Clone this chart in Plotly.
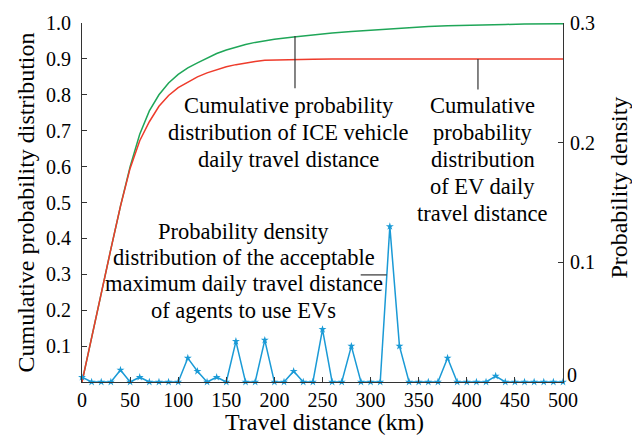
import plotly.graph_objects as go

# ---- data ----
cdf_km = [0, 10, 20, 30, 40, 50, 60, 70, 80, 90, 100, 110, 120, 130, 140, 150, 160, 170, 180, 190,
          200, 220, 240, 260, 280, 300, 320, 340, 360, 380, 400, 420, 440, 460, 480, 500]
cdf_ice = [0, 0.125, 0.25, 0.37, 0.49, 0.60, 0.69, 0.755, 0.80, 0.833, 0.857, 0.875, 0.889, 0.903,
           0.915, 0.925, 0.933, 0.940, 0.946, 0.951, 0.955, 0.961, 0.967, 0.972, 0.976, 0.980,
           0.984, 0.987, 0.990, 0.992, 0.994, 0.995, 0.996, 0.997, 0.997, 0.998]
cdf_ev = [0, 0.125, 0.25, 0.37, 0.49, 0.595, 0.672, 0.725, 0.768, 0.798, 0.82, 0.836, 0.85, 0.861,
          0.870, 0.878, 0.884, 0.889, 0.893, 0.896, 0.897, 0.898, 0.899, 0.900, 0.900, 0.900,
          0.900, 0.900, 0.900, 0.900, 0.900, 0.900, 0.900, 0.900, 0.900, 0.900]

pdf_km = list(range(0, 501, 10))
pdf_val = [0.004, 0, 0, 0, 0.010, 0, 0.004, 0, 0, 0,
           0, 0.020, 0.009, 0, 0.004, 0, 0.034, 0, 0, 0.035,
           0, 0, 0.009, 0, 0, 0.044, 0, 0, 0.030, 0,
           0, 0, 0.130, 0.030, 0, 0, 0, 0, 0.020, 0,
           0, 0, 0, 0.005, 0, 0, 0, 0, 0, 0, 0]

x_ticks = list(range(0, 501, 50))
y_ticks = [0.1, 0.2, 0.3, 0.4, 0.5, 0.6, 0.7, 0.8, 0.9, 1.0]
y2_ticks = [0, 0.1, 0.2, 0.3]
y2_labels = ["0", "0.1", "0.2", "0.3"]

label_ice = ["Cumulative probability", "distribution of ICE vehicle", "daily travel distance"]
label_ev = ["Cumulative", "probability", "distribution", "of EV daily", "travel distance"]
label_pdf = ["Probability density", "distribution of the acceptable",
             "maximum daily travel distance", "of agents to use EVs"]

FONT = "Liberation Serif"
AX = "#333333"

# plot-area geometry (pixels)
L, R, T, B = 82, 563, 20, 382
W, H = 632, 435


def px_to_paper(px, py):
    return (px - L) / (R - L), (B - py) / (B - T)


fig = go.Figure()
fig.add_trace(go.Scatter(x=cdf_km, y=cdf_ice, mode="lines",
                         line=dict(color="#1fa658", width=1.5), showlegend=False))
fig.add_trace(go.Scatter(x=cdf_km, y=cdf_ev, mode="lines",
                         line=dict(color="#ee3b2b", width=1.5), showlegend=False))
fig.add_trace(go.Scatter(x=pdf_km, y=pdf_val, mode="lines+markers", yaxis="y2",
                         line=dict(color="#1a9ad6", width=1.5),
                         marker=dict(symbol="star", size=6, color="#1a9ad6"),
                         cliponaxis=False, showlegend=False))

# pointer lines
fig.add_shape(type="line", xref="x", yref="y", x0=221.4, x1=221.4, y0=0.964, y1=0.818,
              line=dict(color=AX, width=1.2))
fig.add_shape(type="line", xref="x", yref="y", x0=411.6, x1=411.6, y0=0.900, y1=0.815,
              line=dict(color=AX, width=1.2))
fig.add_shape(type="line", xref="x", yref="y2", x0=289.7, x1=316.7, y0=0.0895, y1=0.0895,
              line=dict(color=AX, width=1.2))

ann_font = dict(family=FONT, size=22.5, color="black")
OFF = 2.4  # visual-centre offset of a text line


def add_block(lines, cx, y_first, step):
    for i, line in enumerate(lines):
        px, py = px_to_paper(cx, y_first + i * step - OFF)
        fig.add_annotation(x=px, y=py, xref="paper", yref="paper", text=line,
                           showarrow=False, font=ann_font, xanchor="center", yanchor="middle")


add_block(label_ice, 288.5, 105.4, 27.15)
add_block(label_ev, 482.5, 105.4, 27.15)
add_block(label_pdf, 243.5, 232.5, 26.5)

# axis titles
title_font = dict(family=FONT, size=24, color="black")
tx, ty = px_to_paper(324, 422)
fig.add_annotation(text="Travel distance (km)", xref="paper", yref="paper",
                   x=tx, y=ty, showarrow=False,
                   font=title_font, xanchor="center", yanchor="middle")
tx, ty = px_to_paper(25, 201)
fig.add_annotation(text="Cumulative probability distribution", xref="paper", yref="paper",
                   x=tx, y=ty, textangle=-90, showarrow=False,
                   font=title_font, xanchor="center", yanchor="middle")
tx, ty = px_to_paper(619, 186)
fig.add_annotation(text="Probability density", xref="paper", yref="paper",
                   x=tx, y=ty, textangle=-90, showarrow=False,
                   font=title_font, xanchor="center", yanchor="middle")

tick_font = dict(family=FONT, size=20, color="black")

# right-axis "0" label sits slightly above its tick in the reference
fig.add_annotation(text=y2_labels[0], xref="paper", yref="y2", x=1, y=y2_ticks[0],
                   xanchor="left", yanchor="middle", xshift=2, yshift=7,
                   showarrow=False, font=tick_font)

fig.update_layout(
    width=W, height=H,
    margin=dict(l=L, r=W - R, t=T, b=H - B),
    paper_bgcolor="white", plot_bgcolor="white",
    font=dict(family=FONT, color="black"),
    xaxis=dict(range=[0, 500], tickvals=x_ticks, ticks="inside", ticklen=5, tickcolor=AX,
               showline=True, linecolor=AX, linewidth=1.2, showgrid=False, zeroline=False,
               tickfont=tick_font, ticklabelstandoff=0),
    yaxis=dict(range=[0, 1], tickvals=y_ticks, ticktext=[f"{v:.1f}" for v in y_ticks],
               ticks="inside", ticklen=5, tickcolor=AX,
               showline=True, linecolor=AX, linewidth=1.2, showgrid=False, zeroline=False,
               tickfont=tick_font, ticklabelstandoff=6),
    yaxis2=dict(range=[0, 0.3], tickvals=y2_ticks, ticktext=[""] + y2_labels[1:],
                overlaying="y", side="right", ticks="inside", ticklen=5, tickcolor=AX,
                showline=True, linecolor=AX, linewidth=1.2, showgrid=False, zeroline=False,
                tickfont=tick_font, ticklabelstandoff=2),
)

fig.write_html("out.html", config={"displayModeBar": False},
               post_script="document.body.style.margin='0';")
